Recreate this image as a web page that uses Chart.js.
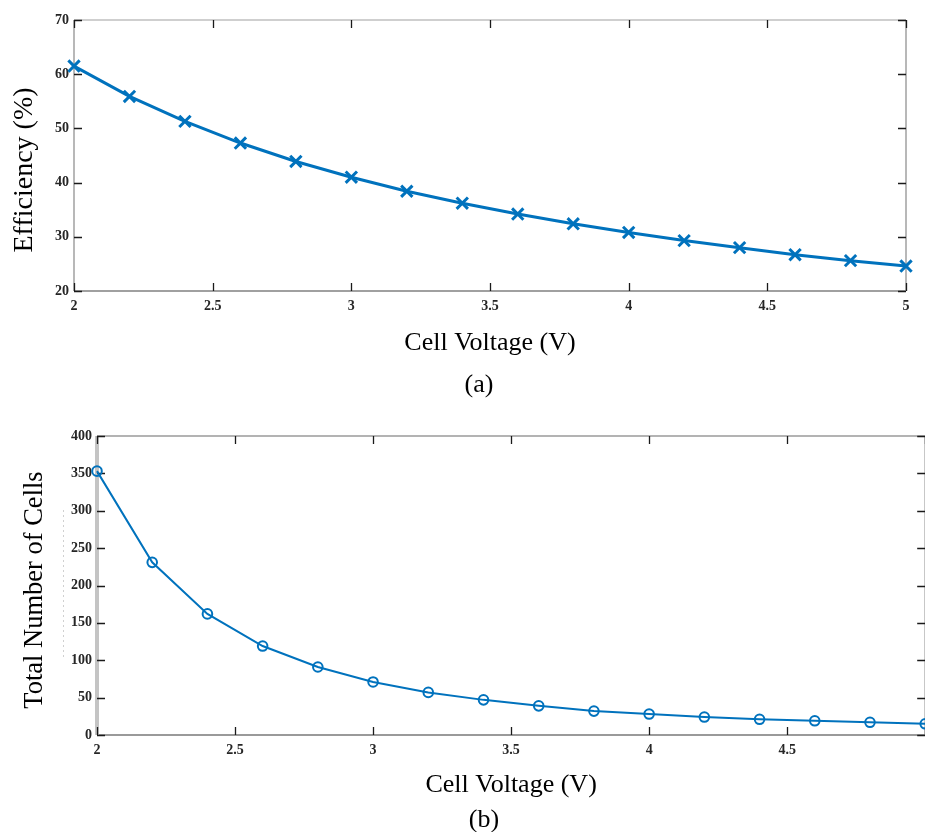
<!DOCTYPE html>
<html>
<head>
<meta charset="utf-8">
<script src="https://cdn.jsdelivr.net/npm/chart.js@4.4.1/dist/chart.umd.min.js"></script>
<style>
  html, body { margin: 0; padding: 0; background: #fff; width: 925px; height: 832px; overflow: hidden; position: relative; }
  .panel { position: absolute; left: 0; width: 932px; }
  .panel canvas { display: block; width: 932px; }
</style>
</head>
<body>
<div class="panel" style="top:0;height:400px"><canvas id="effChart" width="932" height="400" style="height:400px"></canvas></div>
<div class="panel" style="top:400px;height:432px"><canvas id="cellsChart" width="932" height="432" style="height:432px"></canvas></div>
<script>
// cell voltage sweep (V)
const voltages = [2.0, 2.2, 2.4, 2.6, 2.8, 3.0, 3.2, 3.4, 3.6, 3.8, 4.0, 4.2, 4.4, 4.6, 4.8, 5.0];
// (a) efficiency (%)
const efficiency = [61.5, 55.9, 51.3, 47.3, 43.9, 41.0, 38.4, 36.2, 34.2, 32.4, 30.8, 29.3, 28.0, 26.7, 25.6, 24.6];
// (b) total number of cells
const cellCount = [353, 231, 162, 119, 91, 71, 57, 47, 39, 32, 28, 24, 21, 19, 17, 15];

const effTicks = { min: 20, max: 70, step: 10 };
const cellTicks = { min: 0, max: 400, step: 50 };
const voltTicks = { min: 2, max: 5, step: 0.5 };

const LINE = '#0072BD';
const SERIF = '"Liberation Serif", "Times New Roman", serif';

// box around the plot with inward tick marks on all four sides
const frameTicks = {
  id: 'frameTicks',
  beforeDatasetsDraw(chart, args, opts) {
    const { ctx, chartArea: a, scales: { x, y } } = chart;
    const L = 8;
    ctx.save();
    const edge = (s, x1, y1, x2, y2) => {
      ctx.strokeStyle = s.color;
      ctx.lineWidth = s.width;
      ctx.beginPath();
      ctx.moveTo(x1, y1);
      ctx.lineTo(x2, y2);
      ctx.stroke();
    };
    edge(opts.top, a.left, a.top, a.right, a.top);
    edge(opts.right, a.right, a.top, a.right, a.bottom);
    edge(opts.bottom, a.left, a.bottom, a.right, a.bottom);
    edge(opts.left, a.left, a.top, a.left, a.bottom);

    ctx.strokeStyle = '#1a1a1a';
    ctx.lineWidth = 1.3;
    ctx.beginPath();
    x.ticks.forEach(t => {
      const px = Math.round(x.getPixelForValue(t.value)) + 0.5;
      ctx.moveTo(px, a.bottom); ctx.lineTo(px, a.bottom - L);
      ctx.moveTo(px, a.top); ctx.lineTo(px, a.top + L);
    });
    y.ticks.forEach(t => {
      const py = Math.round(y.getPixelForValue(t.value)) + 0.5;
      ctx.moveTo(a.left, py); ctx.lineTo(a.left + L, py);
      ctx.moveTo(a.right, py); ctx.lineTo(a.right - L, py);
    });
    ctx.stroke();

    if (opts.dotted) {
      const d = opts.dotted;
      ctx.strokeStyle = 'rgba(150,150,150,0.45)';
      ctx.lineWidth = 1;
      ctx.setLineDash([2, 3]);
      ctx.beginPath();
      ctx.moveTo(d.x, d.y1); ctx.lineTo(d.x, d.y2);
      ctx.stroke();
    }
    ctx.restore();
  }
};

// rotated y-axis title and the panel letter under the x-axis title
const captions = {
  id: 'captions',
  afterDraw(chart, args, opts) {
    const { ctx } = chart;
    ctx.save();
    ctx.fillStyle = '#000';
    ctx.textAlign = 'center';
    ctx.textBaseline = 'middle';

    const t = opts.yTitle;
    ctx.save();
    ctx.translate(t.x, t.y);
    ctx.rotate(-Math.PI / 2);
    ctx.font = `${t.size}px ${SERIF}`;
    ctx.fillText(t.text, 0, 0);
    ctx.restore();

    const p = opts.panel;
    ctx.font = `26px ${SERIF}`;
    ctx.fillText(p.text, p.x, p.y);
    ctx.restore();
  }
};

const voltLabel = v => Number.isInteger(v) ? String(v) : v.toFixed(1);

function makeChart(id, cfg) {
  const tickFont = { family: SERIF, size: 14, weight: 'bold' };
  return new Chart(document.getElementById(id), {
    type: 'line',
    data: {
      datasets: [{
        data: voltages.map((v, i) => ({ x: v, y: cfg.values[i] })),
        borderColor: LINE,
        borderWidth: cfg.lineWidth,
        pointStyle: cfg.marker,
        pointRadius: cfg.markerSize,
        pointBorderWidth: cfg.markerWidth,
        pointBorderColor: LINE,
        pointBackgroundColor: 'rgba(0,0,0,0)',
        tension: 0,
        clip: false
      }]
    },
    options: {
      responsive: false,
      animation: false,
      layout: { padding: cfg.padding },
      plugins: {
        legend: { display: false },
        tooltip: { enabled: false },
        frameTicks: cfg.frame,
        captions: { yTitle: cfg.yTitle, panel: cfg.panel }
      },
      scales: {
        x: {
          type: 'linear',
          min: voltTicks.min,
          max: voltTicks.max,
          grid: { display: false, drawTicks: false },
          border: { display: false },
          ticks: {
            stepSize: voltTicks.step,
            font: tickFont,
            color: '#262626',
            padding: 7,
            maxRotation: 0,
            callback: v => (cfg.xLabelMax !== undefined && v > cfg.xLabelMax) ? '' : voltLabel(v)
          },
          title: {
            display: true,
            text: 'Cell Voltage (V)',
            font: { family: SERIF, size: 26 },
            color: '#000',
            padding: { top: 0, bottom: cfg.xTitlePad }
          },
          afterFit: s => {
            s.height = cfg.xHeight;
            s.paddingLeft = 0;
            s.paddingRight = 0;
          }
        },
        y: {
          min: cfg.yTicks.min,
          max: cfg.yTicks.max,
          grid: { display: false, drawTicks: false },
          border: { display: false },
          ticks: { stepSize: cfg.yTicks.step, font: tickFont, color: '#262626', padding: 5 },
          afterFit: s => { s.width = cfg.yWidth; }
        }
      }
    },
    plugins: [frameTicks, captions]
  });
}

makeChart('effChart', {
  values: efficiency,
  yTicks: effTicks,
  yTitle: { text: 'Efficiency (%)', x: 25, y: 170, size: 28 },
  lineWidth: 3,
  marker: 'crossRot',
  markerSize: 8,
  markerWidth: 3,
  padding: { top: 20, right: 26, left: 0, bottom: 0 },
  xHeight: 109,
  yWidth: 74,
  xTitlePad: 41,
  frame: {
    top: { color: '#cfcfcf', width: 2 },
    right: { color: '#a0a0a0', width: 1.5 },
    bottom: { color: '#a0a0a0', width: 2 },
    left: { color: '#a0a0a0', width: 1.5 }
  },
  panel: { text: '(a)', x: 479, y: 385 }
});

makeChart('cellsChart', {
  values: cellCount,
  yTicks: cellTicks,
  yTitle: { text: 'Total Number of Cells', x: 35, y: 190, size: 26.5 },
  lineWidth: 2,
  marker: 'circle',
  markerSize: 4.8,
  markerWidth: 2,
  padding: { top: 36, right: 2, left: 0, bottom: 0 },
  xHeight: 97,
  yWidth: 97,
  xTitlePad: 31,
  xLabelMax: 4.9,
  frame: {
    top: { color: '#9a9a9a', width: 1.5 },
    right: { color: '#9a9a9a', width: 1.5 },
    bottom: { color: '#9a9a9a', width: 2 },
    left: { color: '#c4c4c4', width: 4 },
    dotted: { x: 63.5, y1: 110, y2: 258 }
  },
  panel: { text: '(b)', x: 484, y: 420 }
});
</script>
</body>
</html>
